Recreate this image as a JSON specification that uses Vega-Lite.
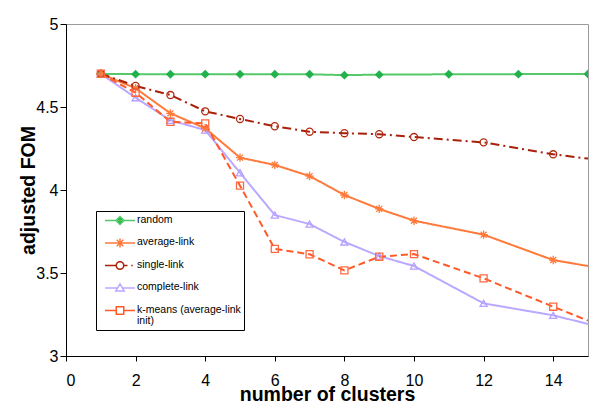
{
  "$schema": "https://vega.github.io/schema/vega-lite/v6.json",
  "width": 522,
  "height": 332,
  "autosize": {"type": "none"},
  "padding": {"left": 66, "top": 24, "right": 11, "bottom": 53},
  "background": "white",
  "config": {
    "view": {"stroke": "#9a9a9a", "strokeWidth": 1},
    "font": "Liberation Sans",
    "axis": {
      "grid": false,
      "domainColor": "black",
      "tickColor": "black",
      "labelColor": "black",
      "titleColor": "black",
      "labelFont": "Liberation Sans",
      "titleFont": "Liberation Sans",
      "labelFontSize": 16,
      "titleFontSize": 19.5,
      "titleFontWeight": "bold"
    }
  },
  "data": {
    "values": [
      {"k": 1, "method": "random", "fom": 4.699},
      {"k": 2, "method": "random", "fom": 4.698},
      {"k": 3, "method": "random", "fom": 4.697},
      {"k": 4, "method": "random", "fom": 4.698},
      {"k": 5, "method": "random", "fom": 4.697},
      {"k": 6, "method": "random", "fom": 4.698},
      {"k": 7, "method": "random", "fom": 4.697},
      {"k": 8, "method": "random", "fom": 4.692},
      {"k": 9, "method": "random", "fom": 4.695},
      {"k": 11, "method": "random", "fom": 4.697},
      {"k": 13, "method": "random", "fom": 4.698},
      {"k": 15, "method": "random", "fom": 4.699},

      {"k": 1, "method": "complete-link", "fom": 4.70},
      {"k": 2, "method": "complete-link", "fom": 4.556},
      {"k": 3, "method": "complete-link", "fom": 4.42},
      {"k": 4, "method": "complete-link", "fom": 4.361},
      {"k": 5, "method": "complete-link", "fom": 4.104},
      {"k": 6, "method": "complete-link", "fom": 3.849},
      {"k": 7, "method": "complete-link", "fom": 3.795},
      {"k": 8, "method": "complete-link", "fom": 3.687},
      {"k": 9, "method": "complete-link", "fom": 3.602},
      {"k": 10, "method": "complete-link", "fom": 3.542},
      {"k": 12, "method": "complete-link", "fom": 3.317},
      {"k": 14, "method": "complete-link", "fom": 3.245},
      {"k": 15, "method": "complete-link", "fom": 3.193},

      {"k": 1, "method": "average-link", "fom": 4.70},
      {"k": 2, "method": "average-link", "fom": 4.613},
      {"k": 3, "method": "average-link", "fom": 4.462},
      {"k": 4, "method": "average-link", "fom": 4.372},
      {"k": 5, "method": "average-link", "fom": 4.195},
      {"k": 6, "method": "average-link", "fom": 4.151},
      {"k": 7, "method": "average-link", "fom": 4.084},
      {"k": 8, "method": "average-link", "fom": 3.970},
      {"k": 9, "method": "average-link", "fom": 3.886},
      {"k": 10, "method": "average-link", "fom": 3.815},
      {"k": 12, "method": "average-link", "fom": 3.731},
      {"k": 14, "method": "average-link", "fom": 3.578},
      {"k": 15, "method": "average-link", "fom": 3.542},

      {"k": 1, "method": "single-link", "fom": 4.70},
      {"k": 2, "method": "single-link", "fom": 4.627},
      {"k": 3, "method": "single-link", "fom": 4.572},
      {"k": 4, "method": "single-link", "fom": 4.474},
      {"k": 5, "method": "single-link", "fom": 4.428},
      {"k": 6, "method": "single-link", "fom": 4.384},
      {"k": 7, "method": "single-link", "fom": 4.351},
      {"k": 8, "method": "single-link", "fom": 4.342},
      {"k": 9, "method": "single-link", "fom": 4.336},
      {"k": 10, "method": "single-link", "fom": 4.319},
      {"k": 12, "method": "single-link", "fom": 4.287},
      {"k": 14, "method": "single-link", "fom": 4.215},
      {"k": 15, "method": "single-link", "fom": 4.189},

      {"k": 1, "method": "k-means (average-link init)", "fom": 4.70},
      {"k": 2, "method": "k-means (average-link init)", "fom": 4.586},
      {"k": 3, "method": "k-means (average-link init)", "fom": 4.411},
      {"k": 4, "method": "k-means (average-link init)", "fom": 4.401},
      {"k": 5, "method": "k-means (average-link init)", "fom": 4.026},
      {"k": 6, "method": "k-means (average-link init)", "fom": 3.645},
      {"k": 7, "method": "k-means (average-link init)", "fom": 3.613},
      {"k": 8, "method": "k-means (average-link init)", "fom": 3.516},
      {"k": 9, "method": "k-means (average-link init)", "fom": 3.598},
      {"k": 10, "method": "k-means (average-link init)", "fom": 3.614},
      {"k": 12, "method": "k-means (average-link init)", "fom": 3.468},
      {"k": 14, "method": "k-means (average-link init)", "fom": 3.297},
      {"k": 15, "method": "k-means (average-link init)", "fom": 3.213}
    ]
  },
  "encoding": {
    "x": {
      "field": "k",
      "type": "quantitative",
      "scale": {"domain": [0, 15], "nice": false, "zero": false},
      "axis": {
        "values": [0, 2, 4, 6, 8, 10, 12, 14],
        "tickSize": 5,
        "labelPadding": 11,
        "title": "number of clusters",
        "titleY": 44,
        "titleBaseline": "alphabetic"
      }
    },
    "y": {
      "field": "fom",
      "type": "quantitative",
      "scale": {"domain": [3, 5], "nice": false, "zero": false},
      "axis": {
        "values": [3, 3.5, 4, 4.5, 5],
        "format": "~g",
        "tickSize": 6,
        "labelPadding": 2,
        "title": "adjusted FOM",
        "titleX": -32,
        "titleY": 166,
        "titleAngle": 270,
        "titleAlign": "center",
        "titleBaseline": "alphabetic"
      }
    }
  },
  "layer": [
    {
      "mark": {"type": "line", "strokeWidth": 2, "clip": true},
      "encoding": {
        "color": {
          "field": "method",
          "type": "nominal",
          "scale": {
            "domain": ["random", "average-link", "single-link", "complete-link", "k-means (average-link init)"],
            "range": ["#55C96A", "#FF7A3A", "#A8200A", "#BBA8FF", "#FF5A28"]
          },
          "legend": {
            "orient": "none",
            "legendX": 30,
            "legendY": 187,
            "title": null,
            "strokeColor": "black",
            "fillColor": "white",
            "padding": 3,
            "symbolSize": 900,
            "symbolStrokeWidth": 1.5,
            "symbolOffset": 5,
            "labelOffset": 1,
            "labelFont": "Liberation Sans",
            "labelFontSize": 10.5,
            "labelColor": "black",
            "labelLimit": 300,
            "labelBaseline": "top",
            "rowPadding": 9.5,
            "clipHeight": 13,
            "labelExpr": "datum.label == 'k-means (average-link init)' ? ['k-means (average-link', 'init)'] : datum.label",
            "encode": {
              "symbols": {
                "update": {
                  "shape": {"signal": "datum.value == 'random' ? 'M-1,0L1,0M0,-0.27L0.27,0L0,0.27L-0.27,0Z' : datum.value == 'average-link' ? 'M-1,0L1,0M-0.22,-0.22L0.22,0.22M-0.22,0.22L0.22,-0.22M0,-0.3L0,0.3' : datum.value == 'single-link' ? 'M-1,0L-0.25,0M0.25,0L0.5,0M0.75,0L0.85,0M0.25,0A0.25,0.25,0,1,1,-0.25,0A0.25,0.25,0,1,1,0.25,0' : datum.value == 'complete-link' ? 'M-1,0L-0.2,0M0.2,0L1,0M0,-0.27L0.28,0.2L-0.28,0.2Z' : 'M-1,0L-0.25,0M0.25,0L1,0M-0.25,-0.25L0.25,-0.25L0.25,0.25L-0.25,0.25Z'"},
                  "fill": {"signal": "datum.value == 'random' ? '#22B24C' : 'transparent'"},
                  "strokeWidth": {"value": 1.5}
                }
              },
              "labels": {
                "update": {
                  "dy": {"value": -6},
                  "lineHeight": {"value": 11.5}
                }
              }
            }
          }
        },
        "strokeDash": {
          "condition": [
            {"test": "datum.method == 'single-link'", "value": [9, 4, 2, 4]},
            {"test": "datum.method == 'k-means (average-link init)'", "value": [7, 4]}
          ],
          "value": [1, 0]
        }
      }
    },
    {
      "transform": [{"filter": "datum.k < 15 || datum.method == 'random'"}],
      "mark": {"type": "point", "filled": true, "strokeWidth": 1.3, "opacity": 1, "clip": true},
      "encoding": {
        "shape": {
          "condition": [
            {"test": "datum.method == 'random'", "value": "diamond"},
            {"test": "datum.method == 'average-link'", "value": "M-1,0L1,0M0,-1L0,1M-0.71,-0.71L0.71,0.71M-0.71,0.71L0.71,-0.71"},
            {"test": "datum.method == 'single-link'", "value": "circle"},
            {"test": "datum.method == 'complete-link'", "value": "triangle-up"}
          ],
          "value": "square"
        },
        "stroke": {
          "condition": [
            {"test": "datum.method == 'random'", "value": "#22B24C"},
            {"test": "datum.method == 'average-link'", "value": "#FF7A3A"},
            {"test": "datum.method == 'single-link'", "value": "#B02A12"},
            {"test": "datum.method == 'complete-link'", "value": "#B59FFF"}
          ],
          "value": "#FF6A40"
        },
        "fill": {
          "condition": {"test": "datum.method == 'random'", "value": "#22B24C"},
          "value": "transparent"
        },
        "size": {
          "condition": {"test": "datum.method == 'average-link'", "value": 70},
          "value": 50
        }
      }
    }
  ]
}
